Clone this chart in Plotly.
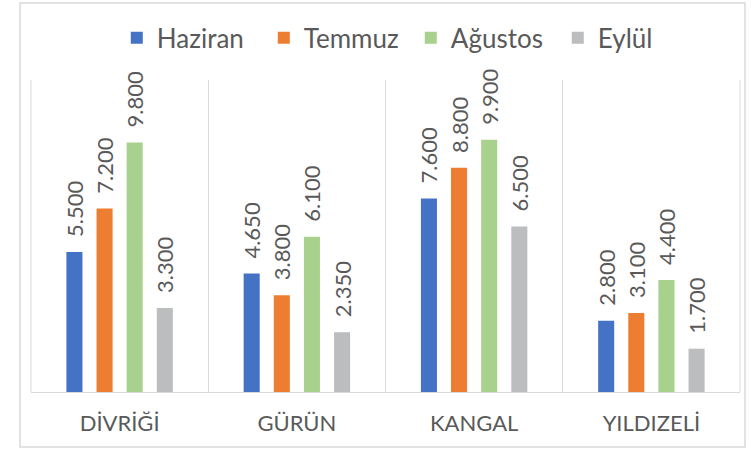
import plotly.graph_objects as go

categories = ["DİVRİĞİ", "GÜRÜN", "KANGAL", "YILDIZELİ"]
series_names = ["Haziran", "Temmuz", "Ağustos", "Eylül"]
haziran = [5500, 4650, 7600, 2800]
temmuz = [7200, 3800, 8800, 3100]
agustos = [9800, 6100, 9900, 4400]
eylul = [3300, 2350, 6500, 1700]
colors = ["#4472C4", "#ED7D31", "#A9D18E", "#BBBDBF"]

FONT = "Lato"
LABEL_GAP = 470  # visual gap between bar top and its value label (axis units)

fig = go.Figure()
for i, (name, vals, col) in enumerate(zip(series_names, [haziran, temmuz, agustos, eylul], colors)):
    fig.add_trace(go.Bar(
        x=categories, y=vals, name=name, marker_color=col, marker_line_width=0,
        offsetgroup=str(i), hoverinfo="skip",
    ))
    # transparent spacer sitting on the bar, carrying the value label above it
    fig.add_trace(go.Bar(
        x=categories, y=[LABEL_GAP] * len(vals), base=vals, customdata=vals,
        offsetgroup=str(i), showlegend=False, hoverinfo="skip",
        marker_color="rgba(0,0,0,0)", marker_line_width=0,
        texttemplate="%{customdata:,.0f}", textposition="outside", textangle=-90,
        constraintext="none",
        textfont=dict(family=FONT, size=22, color="#595959"), cliponaxis=False,
    ))

fig.update_layout(
    width=751, height=453,
    margin=dict(l=31, r=11, t=80, b=61, autoexpand=False),
    separators=",.",
    barmode="group", bargap=0.32, bargroupgap=0.467,
    plot_bgcolor="white", paper_bgcolor="white",
    font=dict(family=FONT, color="#595959"),
    showlegend=True,
    legend=dict(orientation="h", x=0.121, xanchor="left", y=1.135, yanchor="middle",
                font=dict(family=FONT, size=26, color="#595959"), itemwidth=30,
                entrywidth=102, entrywidthmode="pixels", bgcolor="rgba(0,0,0,0)",
                traceorder="normal"),
    xaxis=dict(tickson="boundaries", showgrid=True, gridcolor="#D9D9D9", gridwidth=1,
               showline=True, linecolor="#D9D9D9", ticks="", ticklabelstandoff=12,
               range=[-0.5, 3.5],
               tickfont=dict(family=FONT, size=22, color="#595959")),
    yaxis=dict(range=[0, 12250], visible=False, showgrid=False),
    shapes=[
        dict(type="rect", xref="paper", yref="paper", x0=-0.0155, x1=1.007,
             y0=-0.176, y1=1.247, line=dict(color="#D9D9D9", width=1.5),
             fillcolor="rgba(0,0,0,0)", layer="below"),
        dict(type="line", xref="paper", yref="paper", x0=0, x1=0, y0=0, y1=1,
             line=dict(color="#D9D9D9", width=1), layer="below"),
        dict(type="line", xref="paper", yref="paper", x0=1, x1=1, y0=0, y1=1,
             line=dict(color="#D9D9D9", width=1), layer="below"),
    ],
)
fig.write_html("out.html", config={"displayModeBar": False},
               post_script="document.body.style.margin='0';")
